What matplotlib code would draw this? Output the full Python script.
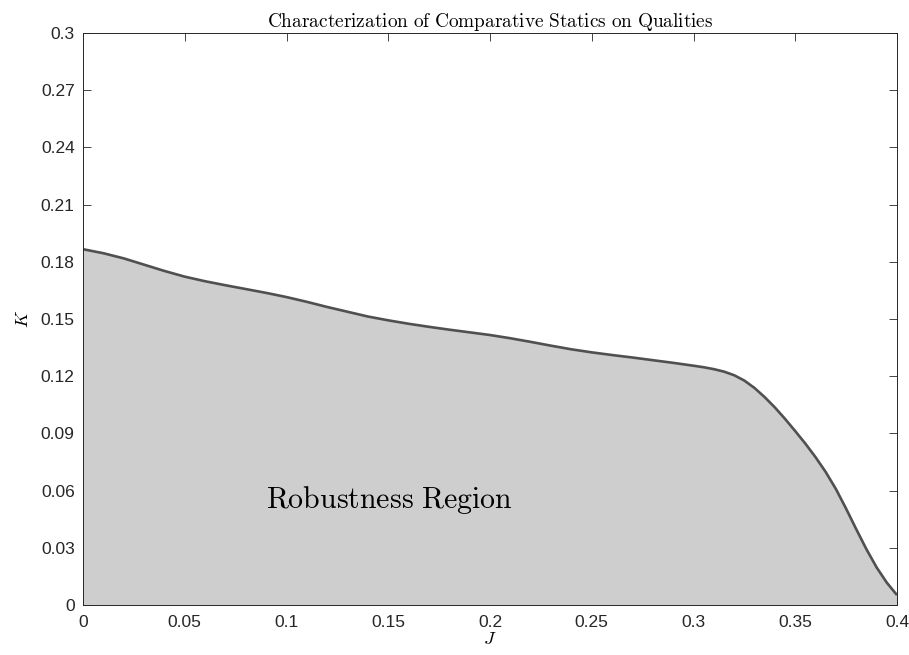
import matplotlib
matplotlib.use("Agg")
import matplotlib.pyplot as plt

j_vals = [0.00, 0.01, 0.02, 0.03, 0.04, 0.05, 0.06, 0.07, 0.08, 0.09, 0.10,
          0.11, 0.12, 0.13, 0.14, 0.15, 0.16, 0.17, 0.18, 0.19, 0.20,
          0.21, 0.22, 0.23, 0.24, 0.25, 0.26, 0.27, 0.28, 0.29, 0.30,
          0.305, 0.31, 0.315, 0.32, 0.325, 0.33, 0.335, 0.34, 0.345, 0.35,
          0.355, 0.36, 0.365, 0.37, 0.375, 0.38, 0.385, 0.39, 0.395, 0.40]
k_vals = [0.1866, 0.1845, 0.1818, 0.1785, 0.1752, 0.1722, 0.1698, 0.1677,
          0.1657, 0.1637, 0.1615, 0.1590, 0.1563, 0.1538, 0.1513, 0.1493,
          0.1475, 0.1459, 0.1444, 0.1430, 0.1416, 0.1399, 0.1380, 0.1360,
          0.1341, 0.1325, 0.1311, 0.1298, 0.1284, 0.1270, 0.1255,
          0.1247, 0.1237, 0.1224, 0.1205, 0.1177, 0.1138, 0.1090, 0.1036,
          0.0976, 0.0912, 0.0846, 0.0775, 0.0697, 0.0608, 0.0505, 0.0397,
          0.0292, 0.0197, 0.0117, 0.0052]
x_ticks = [0, 0.05, 0.1, 0.15, 0.2, 0.25, 0.3, 0.35, 0.4]
x_tick_labels = ["0", "0.05", "0.1", "0.15", "0.2", "0.25", "0.3", "0.35", "0.4"]
y_ticks = [0, 0.03, 0.06, 0.09, 0.12, 0.15, 0.18, 0.21, 0.24, 0.27, 0.3]
y_tick_labels = ["0", "0.03", "0.06", "0.09", "0.12", "0.15", "0.18", "0.21", "0.24", "0.27", "0.3"]

plt.rcParams['mathtext.fontset'] = 'cm'
plt.rcParams['font.family'] = ['Liberation Sans', 'DejaVu Sans']

fig = plt.figure(figsize=(9.09, 6.55), dpi=100)
ax = fig.add_axes([83/909, 50/655, 814/909, 572/655])

ax.fill_between(j_vals, 0, k_vals, facecolor='#cecece', edgecolor='none', zorder=3)
ax.plot(j_vals, k_vals, color='#505050', lw=1.9, zorder=4,
        solid_joinstyle='round', solid_capstyle='butt')

ax.set_xlim(0, 0.4)
ax.set_ylim(0, 0.3)
ax.set_xticks(x_ticks)
ax.set_xticklabels(x_tick_labels)
ax.set_yticks(y_ticks)
ax.set_yticklabels(y_tick_labels)
ax.tick_params(direction='in', length=6, width=0.6, top=True, right=True,
               labelsize=12.5, colors='#262626', pad=6)
ax.tick_params(axis='x', pad=7)
for s in ax.spines.values():
    s.set_color('#262626')
    s.set_linewidth(0.7)
    s.set_zorder(5)

ax.set_xlabel(r'$J$', fontsize=13, labelpad=1)
ax.set_ylabel(r'$K$', fontsize=13, labelpad=6)
ax.set_title(r'$\mathrm{Characterization\ of\ Comparative\ Statics\ on\ Qualities}$',
             fontsize=13.9, pad=4)
ax.text(0.0899, 0.055, r'$\mathrm{Robustness\ Region}$', fontsize=21.5,
        ha='left', va='center', zorder=6)

fig.savefig('out.png', dpi=100)
